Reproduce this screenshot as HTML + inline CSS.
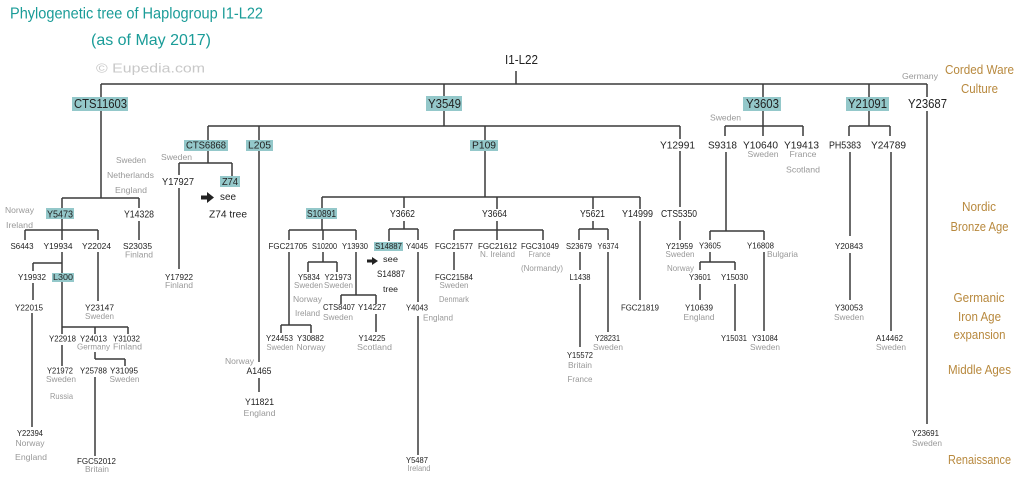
<!DOCTYPE html>
<html><head><meta charset="utf-8"><style>
html,body{margin:0;padding:0;background:#fff;}
svg{display:block;}
text{font-family:"Liberation Sans",sans-serif;text-anchor:middle;}
.l{font-size:13px;fill:#222;}
.m{font-size:10.5px;fill:#222;}
.s{font-size:8.5px;fill:#222;}
.g{font-size:8.5px;fill:#999;}
.e{font-size:12.5px;fill:#b8893e;}
</style></head><body>
<svg width="1024" height="484" viewBox="0 0 1024 484" xmlns="http://www.w3.org/2000/svg">
<rect width="1024" height="484" fill="#fff"/>
<!-- titles -->
<text x="10" y="18.5" style="text-anchor:start;font-size:16px;fill:#1a9c98" textLength="253" lengthAdjust="spacingAndGlyphs">Phylogenetic tree of Haplogroup I1-L22</text>
<text x="151" y="45" style="font-size:16px;fill:#1a9c98" textLength="120" lengthAdjust="spacingAndGlyphs">(as of May 2017)</text>
<text x="150.5" y="72.5" style="font-size:13px;fill:#c8c8c8" textLength="109" lengthAdjust="spacingAndGlyphs">© Eupedia.com</text>

<!-- highlights -->
<g fill="#94c8ca">
<rect x="72" y="97" width="56" height="14"/>
<rect x="426" y="96" width="36" height="15"/>
<rect x="743" y="97" width="38" height="14"/>
<rect x="846" y="97" width="43" height="14"/>
<rect x="184" y="140" width="44" height="11"/>
<rect x="246" y="140" width="27" height="11"/>
<rect x="470" y="140" width="28" height="11"/>
<rect x="46" y="208" width="28" height="11"/>
<rect x="220" y="176" width="20" height="11"/>
<rect x="306" y="208" width="31" height="11"/>
<rect x="374" y="242" width="29" height="9"/>
<rect x="52" y="273" width="22" height="9"/>
</g>

<!-- connectors -->
<g stroke="#3a3a3a" stroke-width="1.5" fill="none">
<path d="M516 71V84M101 84H927M101 84V97M444 84V96M763 84V97M869 84V97M927 84V97"/>
<!-- CTS11603 -->
<path d="M101 111V198M62 198H139M62 198V208M139 198V208"/>
<path d="M62 219V230M25 230H98M25 230V240M62 230V240M98 230V240M139 221V240"/>
<path d="M62 252V273M33 263H62M33 263V271"/>
<path d="M62 282V334M62 327H128M95 327V334M128 327V334"/>
<path d="M62 345V366M95 352V359M95 359H125M125 359V366M95 377V456"/>
<path d="M33 283V300M32 313V427M98 252V301"/>
<!-- Y3549 -->
<path d="M444 111V126M208 126H680M208 126V140M259 126V140M485 126V140M680 126V139"/>
<path d="M208 151V163M179 163H232M179 163V175M232 163V176M179 188V269"/>
<path d="M259 151V362M259 378V392"/>
<path d="M485 151V197M322 197H640M322 197V208M404 197V208M497 197V209M593 197V209M640 197V209"/>
<path d="M322 219V230M289 230H356M289 230V240M323 230V240M356 230V240"/>
<path d="M404 221V229M389 229H418M389 229V241M418 229V240"/>
<path d="M323 252V262M308 262H337M308 262V272M337 262V272"/>
<path d="M289 252V325M281 325H311M281 325V333M311 325V333"/>
<path d="M356 252V295M341 295H376M341 295V304M376 295V304M376 314V332"/>
<path d="M418 252V302M418 316V455"/>
<path d="M497 221V230M454 230H543M454 230V240M497 230V240M543 230V240M454 252V270"/>
<path d="M593 221V229M579 229H608M579 229V240M608 229V240M580 252V270M580 284V347M608 252V332"/>
<path d="M640 221V300M680 151V207M680 221V240"/>
<!-- Y3603 -->
<path d="M763 111V136M725 126H803M725 126V136M803 126V136"/>
<path d="M726 152V231M710 231H764M710 231V240M764 231V240"/>
<path d="M710 252V262M700 262H735M700 262V270M735 262V270M700 284V300M735 284V331M764 252V331"/>
<!-- Y21091 -->
<path d="M869 111V126M849 126H890M849 126V136M890 126V136"/>
<path d="M850 152V236M850 253V300M891 152V331"/>
<!-- Y23687 -->
<path d="M927 111V424"/>
</g>

<!-- arrows -->
<g fill="#222">
<path d="M201 195.5H207V192L214 197.5L207 203V199.5H201Z"/>
<path d="M367 259.5H372V257L378 261L372 265V262.5H367Z"/>
</g>

<!-- root + level 1 -->
<text class="l" x="521.5" y="64" textLength="33" lengthAdjust="spacingAndGlyphs">I1-L22</text>
<text class="l" x="100.5" y="108" textLength="53" lengthAdjust="spacingAndGlyphs">CTS11603</text>
<text class="l" x="444.5" y="108" textLength="33" lengthAdjust="spacingAndGlyphs">Y3549</text>
<text class="l" x="762.5" y="108" textLength="33" lengthAdjust="spacingAndGlyphs">Y3603</text>
<text class="l" x="867.5" y="108" textLength="39" lengthAdjust="spacingAndGlyphs">Y21091</text>
<text class="l" x="927.5" y="108" textLength="39" lengthAdjust="spacingAndGlyphs">Y23687</text>
<text class="g" x="920" y="79" textLength="36" lengthAdjust="spacingAndGlyphs">Germany</text>

<!-- level 2 -->
<g class="m">
<text x="206" y="148.5" textLength="40" lengthAdjust="spacingAndGlyphs">CTS6868</text>
<text x="259.5" y="148.5" textLength="23" lengthAdjust="spacingAndGlyphs">L205</text>
<text x="484" y="148.5" textLength="24" lengthAdjust="spacingAndGlyphs">P109</text>
<text x="677.5" y="148.5" textLength="35" lengthAdjust="spacingAndGlyphs">Y12991</text>
<text x="722.5" y="148.5" textLength="29" lengthAdjust="spacingAndGlyphs">S9318</text>
<text x="760.5" y="148.5" textLength="35" lengthAdjust="spacingAndGlyphs">Y10640</text>
<text x="801.5" y="148.5" textLength="35" lengthAdjust="spacingAndGlyphs">Y19413</text>
<text x="845" y="148.5" textLength="32" lengthAdjust="spacingAndGlyphs">PH5383</text>
<text x="888.5" y="148.5" textLength="35" lengthAdjust="spacingAndGlyphs">Y24789</text>
<text x="60" y="217.5" textLength="26" lengthAdjust="spacingAndGlyphs">Y5473</text>
<text x="139" y="217.5" textLength="30" lengthAdjust="spacingAndGlyphs">Y14328</text>
<text x="321.5" y="217" textLength="29" lengthAdjust="spacingAndGlyphs">S10891</text>
<text x="402.5" y="217" textLength="25" lengthAdjust="spacingAndGlyphs">Y3662</text>
<text x="494.5" y="217" textLength="25" lengthAdjust="spacingAndGlyphs">Y3664</text>
<text x="592.5" y="217" textLength="25" lengthAdjust="spacingAndGlyphs">Y5621</text>
<text x="637.5" y="217" textLength="31" lengthAdjust="spacingAndGlyphs">Y14999</text>
<text x="679" y="217" textLength="36" lengthAdjust="spacingAndGlyphs">CTS5350</text>
<text x="178" y="185" textLength="32" lengthAdjust="spacingAndGlyphs">Y17927</text>
<text x="230" y="185" textLength="16" lengthAdjust="spacingAndGlyphs">Z74</text>
<text x="228" y="200" textLength="16" lengthAdjust="spacingAndGlyphs">see</text>
<text x="228" y="217.5" textLength="38" lengthAdjust="spacingAndGlyphs">Z74 tree</text>
</g>

<!-- small node labels -->
<g class="s">
<text x="22" y="249" textLength="23" lengthAdjust="spacingAndGlyphs">S6443</text>
<text x="58" y="249" textLength="29" lengthAdjust="spacingAndGlyphs">Y19934</text>
<text x="96.5" y="249" textLength="29" lengthAdjust="spacingAndGlyphs">Y22024</text>
<text x="137.5" y="249" textLength="29" lengthAdjust="spacingAndGlyphs">S23035</text>
<text x="288" y="249" textLength="39" lengthAdjust="spacingAndGlyphs">FGC21705</text>
<text x="324.5" y="249" textLength="25" lengthAdjust="spacingAndGlyphs">S10200</text>
<text x="355" y="249" textLength="26" lengthAdjust="spacingAndGlyphs">Y13930</text>
<text x="388.5" y="249" textLength="27" lengthAdjust="spacingAndGlyphs">S14887</text>
<text x="417" y="249" textLength="22" lengthAdjust="spacingAndGlyphs">Y4045</text>
<text x="454" y="249" textLength="38" lengthAdjust="spacingAndGlyphs">FGC21577</text>
<text x="497.5" y="249" textLength="39" lengthAdjust="spacingAndGlyphs">FGC21612</text>
<text x="540" y="249" textLength="38" lengthAdjust="spacingAndGlyphs">FGC31049</text>
<text x="579" y="249" textLength="26" lengthAdjust="spacingAndGlyphs">S23679</text>
<text x="608" y="249" textLength="21" lengthAdjust="spacingAndGlyphs">Y6374</text>
<text x="679.5" y="249" textLength="27" lengthAdjust="spacingAndGlyphs">Y21959</text>
<text x="710" y="248.5" textLength="22" lengthAdjust="spacingAndGlyphs">Y3605</text>
<text x="760.5" y="248.5" textLength="27" lengthAdjust="spacingAndGlyphs">Y16808</text>
<text x="849" y="249" textLength="28" lengthAdjust="spacingAndGlyphs">Y20843</text>

<text x="32" y="280" textLength="28" lengthAdjust="spacingAndGlyphs">Y19932</text>
<text x="63" y="280" textLength="20" lengthAdjust="spacingAndGlyphs">L300</text>
<text x="179" y="280" textLength="28" lengthAdjust="spacingAndGlyphs">Y17922</text>
<text x="309" y="280" textLength="22" lengthAdjust="spacingAndGlyphs">Y5834</text>
<text x="338" y="280" textLength="27" lengthAdjust="spacingAndGlyphs">Y21973</text>
<text x="454" y="280" textLength="38" lengthAdjust="spacingAndGlyphs">FGC21584</text>
<text x="580" y="280" textLength="21" lengthAdjust="spacingAndGlyphs">L1438</text>
<text x="700" y="280" textLength="22" lengthAdjust="spacingAndGlyphs">Y3601</text>
<text x="734.5" y="280" textLength="27" lengthAdjust="spacingAndGlyphs">Y15030</text>

<text x="390.5" y="262" textLength="15" lengthAdjust="spacingAndGlyphs">see</text>
<text x="391" y="277" style="font-size:9px" textLength="28" lengthAdjust="spacingAndGlyphs">S14887</text>
<text x="390.5" y="292" textLength="15" lengthAdjust="spacingAndGlyphs">tree</text>

<text x="29" y="310.5" textLength="28" lengthAdjust="spacingAndGlyphs">Y22015</text>
<text x="99.5" y="310.5" textLength="29" lengthAdjust="spacingAndGlyphs">Y23147</text>
<text x="339" y="310" textLength="32" lengthAdjust="spacingAndGlyphs">CTS8407</text>
<text x="372" y="310" textLength="28" lengthAdjust="spacingAndGlyphs">Y14227</text>
<text x="417" y="310.5" textLength="22" lengthAdjust="spacingAndGlyphs">Y4043</text>
<text x="640" y="310.5" textLength="38" lengthAdjust="spacingAndGlyphs">FGC21819</text>
<text x="699" y="310.5" textLength="28" lengthAdjust="spacingAndGlyphs">Y10639</text>
<text x="849" y="310.5" textLength="28" lengthAdjust="spacingAndGlyphs">Y30053</text>

<text x="62.5" y="341.5" textLength="27" lengthAdjust="spacingAndGlyphs">Y22918</text>
<text x="93.5" y="341.5" textLength="27" lengthAdjust="spacingAndGlyphs">Y24013</text>
<text x="126.5" y="341.5" textLength="27" lengthAdjust="spacingAndGlyphs">Y31032</text>
<text x="279.5" y="341" textLength="27" lengthAdjust="spacingAndGlyphs">Y24453</text>
<text x="310.5" y="341" textLength="27" lengthAdjust="spacingAndGlyphs">Y30882</text>
<text x="372" y="341" textLength="27" lengthAdjust="spacingAndGlyphs">Y14225</text>
<text x="607.5" y="341" textLength="25" lengthAdjust="spacingAndGlyphs">Y28231</text>
<text x="734" y="341" textLength="26" lengthAdjust="spacingAndGlyphs">Y15031</text>
<text x="765" y="341" textLength="26" lengthAdjust="spacingAndGlyphs">Y31084</text>
<text x="889.5" y="341" textLength="27" lengthAdjust="spacingAndGlyphs">A14462</text>

<text x="580" y="358" textLength="26" lengthAdjust="spacingAndGlyphs">Y15572</text>
<text x="60" y="373.5" textLength="26" lengthAdjust="spacingAndGlyphs">Y21972</text>
<text x="93.5" y="373.5" textLength="27" lengthAdjust="spacingAndGlyphs">Y25788</text>
<text x="124" y="373.5" textLength="28" lengthAdjust="spacingAndGlyphs">Y31095</text>
<text x="259" y="374" style="font-size:9.5px" textLength="25" lengthAdjust="spacingAndGlyphs">A1465</text>
<text x="259.5" y="405" style="font-size:9.5px" textLength="29" lengthAdjust="spacingAndGlyphs">Y11821</text>
<text x="30" y="436" textLength="26" lengthAdjust="spacingAndGlyphs">Y22394</text>
<text x="925.5" y="436" textLength="27" lengthAdjust="spacingAndGlyphs">Y23691</text>
<text x="417" y="463" textLength="22" lengthAdjust="spacingAndGlyphs">Y5487</text>
<text x="96.5" y="464" textLength="39" lengthAdjust="spacingAndGlyphs">FGC52012</text>
</g>

<!-- grey locations -->
<g class="g">
<text x="131" y="163" textLength="30" lengthAdjust="spacingAndGlyphs">Sweden</text>
<text x="130.5" y="178" textLength="47" lengthAdjust="spacingAndGlyphs">Netherlands</text>
<text x="131" y="193" textLength="32" lengthAdjust="spacingAndGlyphs">England</text>
<text x="19.5" y="213" textLength="29" lengthAdjust="spacingAndGlyphs">Norway</text>
<text x="19.5" y="228" textLength="27" lengthAdjust="spacingAndGlyphs">Ireland</text>
<text x="176.5" y="160" textLength="31" lengthAdjust="spacingAndGlyphs">Sweden</text>
<text x="725.5" y="120.5" textLength="31" lengthAdjust="spacingAndGlyphs">Sweden</text>
<text x="763" y="157" textLength="31" lengthAdjust="spacingAndGlyphs">Sweden</text>
<text x="803" y="157" textLength="27" lengthAdjust="spacingAndGlyphs">France</text>
<text x="803" y="172.5" textLength="34" lengthAdjust="spacingAndGlyphs">Scotland</text>

<text x="139" y="257.5" textLength="28" lengthAdjust="spacingAndGlyphs">Finland</text>
<text x="497.5" y="257" textLength="35" lengthAdjust="spacingAndGlyphs">N. Ireland</text>
<text x="539.5" y="257" textLength="22" lengthAdjust="spacingAndGlyphs">France</text>
<text x="680" y="257" textLength="29" lengthAdjust="spacingAndGlyphs">Sweden</text>
<text x="782.5" y="257" textLength="31" lengthAdjust="spacingAndGlyphs">Bulgaria</text>
<text x="542" y="271" textLength="42" lengthAdjust="spacingAndGlyphs">(Normandy)</text>
<text x="680.5" y="271" textLength="27" lengthAdjust="spacingAndGlyphs">Norway</text>

<text x="179" y="288" textLength="28" lengthAdjust="spacingAndGlyphs">Finland</text>
<text x="308.5" y="288" textLength="29" lengthAdjust="spacingAndGlyphs">Sweden</text>
<text x="338.5" y="288" textLength="29" lengthAdjust="spacingAndGlyphs">Sweden</text>
<text x="454" y="288" textLength="29" lengthAdjust="spacingAndGlyphs">Sweden</text>
<text x="307.5" y="302" textLength="29" lengthAdjust="spacingAndGlyphs">Norway</text>
<text x="454" y="302" textLength="30" lengthAdjust="spacingAndGlyphs">Denmark</text>
<text x="307.5" y="316" textLength="25" lengthAdjust="spacingAndGlyphs">Ireland</text>

<text x="99.5" y="319" textLength="29" lengthAdjust="spacingAndGlyphs">Sweden</text>
<text x="338" y="320" textLength="30" lengthAdjust="spacingAndGlyphs">Sweden</text>
<text x="438" y="320.5" textLength="30" lengthAdjust="spacingAndGlyphs">England</text>
<text x="699" y="320" textLength="31" lengthAdjust="spacingAndGlyphs">England</text>
<text x="849" y="320" textLength="30" lengthAdjust="spacingAndGlyphs">Sweden</text>

<text x="93.5" y="349.5" textLength="33" lengthAdjust="spacingAndGlyphs">Germany</text>
<text x="127.5" y="349.5" textLength="29" lengthAdjust="spacingAndGlyphs">Finland</text>
<text x="280" y="350" textLength="27" lengthAdjust="spacingAndGlyphs">Sweden</text>
<text x="311" y="350" textLength="29" lengthAdjust="spacingAndGlyphs">Norway</text>
<text x="374.5" y="350" textLength="35" lengthAdjust="spacingAndGlyphs">Scotland</text>
<text x="608" y="350" textLength="30" lengthAdjust="spacingAndGlyphs">Sweden</text>
<text x="765" y="350" textLength="30" lengthAdjust="spacingAndGlyphs">Sweden</text>
<text x="891" y="350" textLength="30" lengthAdjust="spacingAndGlyphs">Sweden</text>

<text x="239.5" y="364" textLength="29" lengthAdjust="spacingAndGlyphs">Norway</text>
<text x="580" y="368" textLength="24" lengthAdjust="spacingAndGlyphs">Britain</text>
<text x="61" y="382" textLength="30" lengthAdjust="spacingAndGlyphs">Sweden</text>
<text x="124.5" y="382" textLength="30" lengthAdjust="spacingAndGlyphs">Sweden</text>
<text x="580" y="382" textLength="25" lengthAdjust="spacingAndGlyphs">France</text>
<text x="61.5" y="399" textLength="23" lengthAdjust="spacingAndGlyphs">Russia</text>
<text x="259.5" y="416" textLength="32" lengthAdjust="spacingAndGlyphs">England</text>
<text x="30" y="446" textLength="29" lengthAdjust="spacingAndGlyphs">Norway</text>
<text x="927" y="446" textLength="30" lengthAdjust="spacingAndGlyphs">Sweden</text>
<text x="31" y="460" textLength="32" lengthAdjust="spacingAndGlyphs">England</text>
<text x="419" y="471" textLength="23" lengthAdjust="spacingAndGlyphs">Ireland</text>
<text x="97" y="472" textLength="24" lengthAdjust="spacingAndGlyphs">Britain</text>
</g>

<!-- eras -->
<g class="e">
<text x="979.5" y="74" textLength="69" lengthAdjust="spacingAndGlyphs">Corded Ware</text>
<text x="979.5" y="93" textLength="37" lengthAdjust="spacingAndGlyphs">Culture</text>
<text x="979" y="211" textLength="34" lengthAdjust="spacingAndGlyphs">Nordic</text>
<text x="979.5" y="231" textLength="58" lengthAdjust="spacingAndGlyphs">Bronze Age</text>
<text x="979" y="302" textLength="51" lengthAdjust="spacingAndGlyphs">Germanic</text>
<text x="979.5" y="321" textLength="43" lengthAdjust="spacingAndGlyphs">Iron Age</text>
<text x="979.5" y="339" textLength="52" lengthAdjust="spacingAndGlyphs">expansion</text>
<text x="979.5" y="374" textLength="63" lengthAdjust="spacingAndGlyphs">Middle Ages</text>
<text x="979.5" y="464" textLength="63" lengthAdjust="spacingAndGlyphs">Renaissance</text>
</g>
</svg>
</body></html>
